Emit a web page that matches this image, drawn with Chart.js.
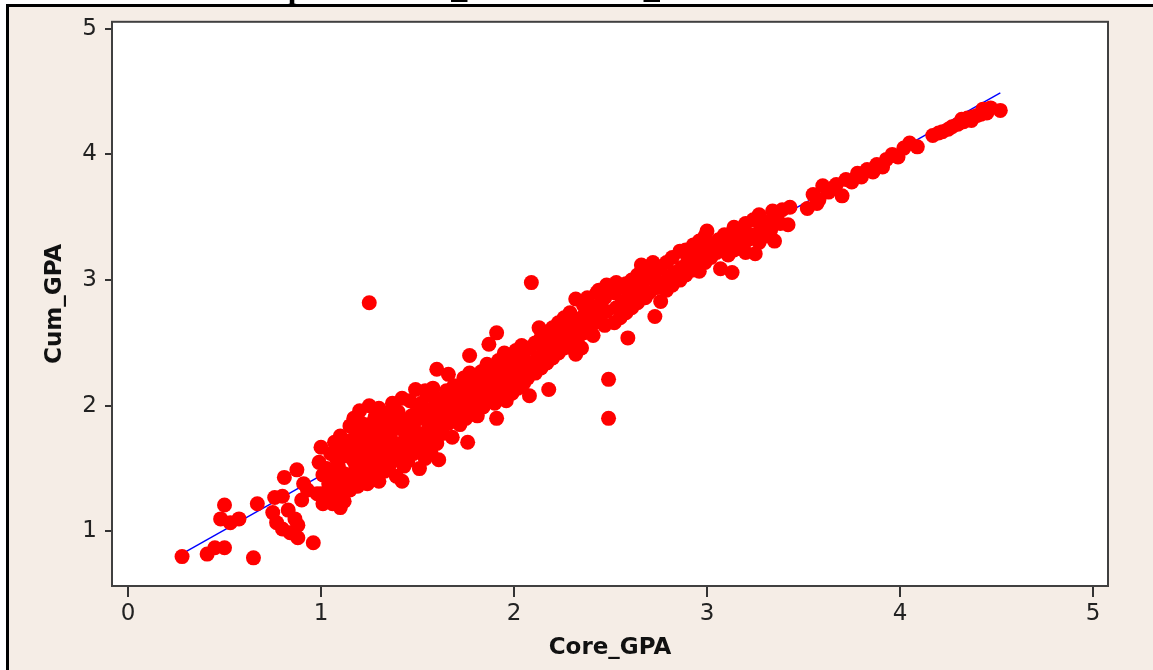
<!DOCTYPE html>
<html>
<head>
<meta charset="utf-8">
<title>Cum_GPA vs Core_GPA</title>
<script src="https://cdn.jsdelivr.net/npm/chart.js@4.4.1/dist/chart.umd.min.js"></script>
<style>
  html, body { margin: 0; padding: 0; background: #ffffff; }
  #gpaChart { display: block; }
</style>
</head>
<body>
<canvas id="gpaChart" width="1153" height="670"></canvas>
<script>
// ================================================
// Data (Core_GPA, Cum_GPA)
// ================================================

const lowCluster = [
  [0.28, 0.80], [0.41, 0.82], [0.45, 0.87], [0.50, 0.87], [0.65, 0.79],
  [0.48, 1.10], [0.50, 1.21], [0.53, 1.07], [0.575, 1.10], [0.67, 1.22],
  [0.75, 1.15], [0.76, 1.27], [0.77, 1.07], [0.80, 1.28], [0.80, 1.02],
  [0.81, 1.43], [0.83, 1.17], [0.84, 0.99], [0.865, 1.10], [0.875, 1.49],
  [0.88, 0.95], [0.88, 1.05], [0.90, 1.25], [0.91, 1.38], [0.93, 1.33],
  [0.96, 0.91], [0.98, 1.30], [1.01, 1.22], [1.10, 1.19]
];

const lowerBand = [
  [1.00, 1.30], [1.01, 1.45], [0.99, 1.55], [1.00, 1.67],
  [1.03, 1.26], [1.04, 1.38], [1.03, 1.50], [1.05, 1.62],
  [1.06, 1.22], [1.07, 1.34], [1.06, 1.47], [1.08, 1.58], [1.07, 1.71],
  [1.09, 1.28], [1.10, 1.40], [1.09, 1.52], [1.11, 1.65], [1.10, 1.76],
  [1.12, 1.24], [1.13, 1.37], [1.12, 1.46], [1.14, 1.60], [1.13, 1.72], [1.15, 1.84],
  [1.15, 1.33], [1.16, 1.44], [1.17, 1.56], [1.16, 1.68], [1.18, 1.78], [1.17, 1.90],
  [1.19, 1.36], [1.18, 1.50], [1.20, 1.62], [1.19, 1.74], [1.21, 1.86],
  [1.21, 1.42], [1.22, 1.55], [1.23, 1.66], [1.22, 1.80], [1.20, 1.96],
  [1.24, 1.38], [1.25, 1.48], [1.24, 1.60], [1.26, 1.72], [1.25, 1.85], [1.25, 2.00],
  [1.27, 1.45], [1.28, 1.57], [1.27, 1.69], [1.29, 1.78], [1.28, 1.91],
  [1.30, 1.40], [1.31, 1.52], [1.30, 1.64], [1.32, 1.75], [1.31, 1.88], [1.30, 1.98],
  [1.33, 1.48], [1.34, 1.60], [1.33, 1.71], [1.35, 1.83], [1.34, 1.94],
  [1.36, 1.54], [1.37, 1.66], [1.36, 1.78], [1.38, 1.90], [1.37, 2.02],
  [1.39, 1.44], [1.40, 1.58], [1.39, 1.70], [1.41, 1.82], [1.40, 1.95],
  [1.42, 1.40], [1.43, 1.52], [1.42, 1.64], [1.44, 1.76], [1.43, 1.87], [1.42, 2.06],
  [1.45, 1.56], [1.46, 1.69], [1.45, 1.80], [1.47, 1.92], [1.46, 2.04],
  [1.48, 1.62], [1.49, 1.74], [1.48, 1.85], [1.50, 1.97], [1.49, 2.13]
];

const middleBand = [
  [1.51, 1.50], [1.52, 1.66], [1.51, 1.78], [1.53, 1.90], [1.52, 2.02], [1.54, 2.12],
  [1.54, 1.58], [1.55, 1.72], [1.56, 1.84], [1.55, 1.96], [1.57, 2.08],
  [1.57, 1.62], [1.58, 1.76], [1.57, 1.88], [1.59, 2.00], [1.58, 2.14],
  [1.61, 1.57], [1.60, 1.70], [1.61, 1.82], [1.62, 1.94], [1.60, 2.06], [1.60, 2.29],
  [1.63, 1.78], [1.64, 1.90], [1.63, 2.02], [1.65, 2.12],
  [1.66, 1.86], [1.67, 1.97], [1.66, 2.08], [1.66, 2.25],
  [1.68, 1.75], [1.69, 1.92], [1.70, 2.04], [1.69, 2.16],
  [1.72, 1.85], [1.73, 1.98], [1.72, 2.10], [1.74, 2.22],
  [1.76, 1.71], [1.75, 1.90], [1.76, 2.02], [1.75, 2.14], [1.77, 2.26],
  [1.78, 1.96], [1.79, 2.08], [1.78, 2.20], [1.77, 2.40],
  [1.81, 1.92], [1.82, 2.03], [1.81, 2.15], [1.83, 2.27],
  [1.84, 1.99], [1.85, 2.10], [1.84, 2.22], [1.86, 2.33],
  [1.87, 2.05], [1.88, 2.17], [1.87, 2.28], [1.87, 2.49],
  [1.90, 2.02], [1.91, 2.12], [1.90, 2.24], [1.92, 2.36], [1.91, 2.58], [1.91, 1.90],
  [1.93, 2.08], [1.94, 2.19], [1.93, 2.30], [1.95, 2.42],
  [1.96, 2.04], [1.97, 2.14], [1.96, 2.26], [1.98, 2.38],
  [1.99, 2.10], [2.00, 2.21], [1.99, 2.32], [2.01, 2.44],
  [2.02, 2.14], [2.03, 2.26], [2.02, 2.37], [2.04, 2.48],
  [2.05, 2.18], [2.06, 2.30], [2.05, 2.42],
  [2.08, 2.08], [2.07, 2.22], [2.09, 2.34], [2.08, 2.46],
  [2.11, 2.26], [2.12, 2.38], [2.11, 2.50],
  [2.14, 2.30], [2.15, 2.42], [2.14, 2.54], [2.13, 2.62],
  [2.17, 2.34], [2.18, 2.46], [2.17, 2.58], [2.18, 2.13],
  [2.20, 2.38], [2.21, 2.50], [2.20, 2.62],
  [2.23, 2.42], [2.24, 2.55], [2.23, 2.66],
  [2.26, 2.46], [2.27, 2.58], [2.26, 2.70],
  [2.29, 2.50], [2.30, 2.62], [2.29, 2.74],
  [2.32, 2.41], [2.33, 2.54], [2.32, 2.66], [2.32, 2.85],
  [2.35, 2.46], [2.36, 2.58], [2.35, 2.70], [2.36, 2.80],
  [2.38, 2.62], [2.39, 2.74], [2.38, 2.86],
  [2.41, 2.56], [2.42, 2.66], [2.41, 2.78], [2.43, 2.90],
  [2.44, 2.70], [2.45, 2.82], [2.44, 2.92],
  [2.47, 2.64], [2.48, 2.75], [2.47, 2.86], [2.48, 2.96]
];

const upperBand = [
  [2.52, 2.66], [2.53, 2.78], [2.52, 2.90], [2.53, 2.98],
  [2.55, 2.70], [2.56, 2.82], [2.55, 2.94],
  [2.58, 2.74], [2.59, 2.86], [2.58, 2.97], [2.59, 2.54],
  [2.61, 2.78], [2.62, 2.90], [2.61, 3.00],
  [2.64, 2.82], [2.65, 2.94], [2.64, 3.04], [2.66, 3.12],
  [2.68, 2.86], [2.67, 2.98], [2.68, 3.07],
  [2.70, 2.90], [2.71, 3.02],
  [2.73, 2.71], [2.74, 2.94], [2.73, 3.06], [2.72, 3.14],
  [2.76, 2.83], [2.77, 2.98], [2.76, 3.10],
  [2.79, 2.92], [2.80, 3.02], [2.79, 3.14],
  [2.82, 2.96], [2.83, 3.06], [2.82, 3.18],
  [2.86, 3.00], [2.87, 3.10], [2.86, 3.23],
  [2.89, 3.04], [2.90, 3.15], [2.89, 3.24],
  [2.93, 3.08], [2.94, 3.18], [2.93, 3.28],
  [2.96, 3.07], [2.97, 3.20], [2.96, 3.31],
  [2.99, 3.14], [3.00, 3.25], [2.99, 3.35], [3.00, 3.39],
  [3.02, 3.18], [3.03, 3.28], [3.05, 3.22], [3.06, 3.32], [3.07, 3.09],
  [3.08, 3.26], [3.09, 3.36], [3.11, 3.20], [3.12, 3.30], [3.13, 3.06],
  [3.14, 3.24], [3.15, 3.34], [3.14, 3.42], [3.17, 3.28], [3.18, 3.38],
  [3.20, 3.22], [3.21, 3.32], [3.20, 3.45], [3.23, 3.36], [3.24, 3.48],
  [3.25, 3.21], [3.27, 3.30], [3.28, 3.42], [3.27, 3.52],
  [3.30, 3.35], [3.31, 3.46], [3.33, 3.40], [3.34, 3.55],
  [3.35, 3.31], [3.36, 3.50], [3.38, 3.45], [3.39, 3.56],
  [3.42, 3.44], [3.43, 3.58]
];

const topChain = [
  [3.52, 3.57], [3.55, 3.68], [3.57, 3.61], [3.58, 3.64], [3.60, 3.75], [3.63, 3.70],
  [3.65, 3.73], [3.67, 3.76], [3.70, 3.67], [3.72, 3.80], [3.75, 3.78], [3.78, 3.85],
  [3.80, 3.82], [3.83, 3.88], [3.86, 3.86], [3.88, 3.92], [3.91, 3.90], [3.93, 3.96],
  [3.96, 4.00], [3.99, 3.98], [4.02, 4.05], [4.05, 4.09], [4.09, 4.06],
  [4.17, 4.15], [4.20, 4.17], [4.22, 4.18], [4.25, 4.20], [4.27, 4.22], [4.30, 4.24],
  [4.32, 4.28], [4.33, 4.26], [4.35, 4.29], [4.37, 4.27], [4.38, 4.30], [4.40, 4.31],
  [4.42, 4.32], [4.43, 4.36], [4.45, 4.33], [4.47, 4.37], [4.52, 4.35]
];

const outliers = [
  [1.25, 2.82], [2.09, 2.98], [2.49, 2.21], [2.49, 1.90]
];

// fitted line end points as drawn
const fitCore = [0.30, 4.52];
const fitCum = [0.84, 4.49];

const xTicks = [0, 1, 2, 3, 4, 5];
const yTicks = [1, 2, 3, 4, 5];

// ================================================
// Chart
// ================================================

document.addEventListener('DOMContentLoaded', function() {
  initChart();
});

function toPoints(pairs) {
  return pairs.map(p => ({ x: p[0], y: p[1] }));
}

const frameBackground = {
  id: 'frameBackground',
  beforeDraw(chart) {
    const { ctx, width, height, chartArea } = chart;
    ctx.save();
    ctx.fillStyle = '#ffffff';
    ctx.fillRect(0, 0, width, height);
    ctx.fillStyle = '#f5ede6';
    ctx.fillRect(6, 4, width - 6, height - 4);
    ctx.fillStyle = '#000000';
    ctx.fillRect(6, 4, width - 6, 3);
    ctx.fillRect(6, 4, 3, height - 4);
    ctx.fillStyle = '#ffffff';
    ctx.fillRect(chartArea.left, chartArea.top, chartArea.right - chartArea.left, chartArea.bottom - chartArea.top);

    // title sits above the visible window, only descenders show
    ctx.fillStyle = '#000000';
    ctx.font = 'bold 32px "Liberation Serif", serif';
    ctx.textBaseline = 'alphabetic';
    ctx.textAlign = 'left';
    ctx.fillText('Scatterplot of Cum_GPA vs Core_GPA', 190, -2.5);
    ctx.restore();
  },
  afterDraw(chart) {
    const { ctx, chartArea } = chart;
    ctx.save();
    ctx.strokeStyle = '#404040';
    ctx.lineWidth = 2;
    ctx.strokeRect(chartArea.left, chartArea.top, chartArea.right - chartArea.left, chartArea.bottom - chartArea.top);
    ctx.restore();
  }
};

function initChart() {
  const ctx = document.getElementById('gpaChart');
  const tickFont = { family: '"DejaVu Sans", Verdana, sans-serif', size: 23 };
  const titleFont = { family: '"DejaVu Sans", Verdana, sans-serif', size: 23, weight: 'bold' };

  const allPoints = [].concat(lowCluster, lowerBand, middleBand, upperBand, topChain, outliers);

  new Chart(ctx, {
    type: 'scatter',
    data: {
      datasets: [
        {
          label: 'Cum_GPA',
          data: toPoints(allPoints),
          backgroundColor: '#ff0000',
          borderWidth: 0,
          pointRadius: 7.5,
          pointHoverRadius: 7.5
        },
        {
          label: 'Fit',
          data: fitCore.map((x, i) => ({ x: x, y: fitCum[i] })),
          showLine: true,
          borderColor: '#0000ff',
          borderWidth: 1.4,
          pointRadius: 0,
          fill: false
        }
      ]
    },
    options: {
      responsive: false,
      animation: false,
      layout: { padding: { left: 0, top: 19, right: 45, bottom: 0 } },
      plugins: {
        legend: { display: false },
        tooltip: { enabled: false }
      },
      scales: {
        x: {
          type: 'linear',
          min: -0.083,
          max: 5.078,
          afterBuildTicks: s => { s.ticks = xTicks.map(v => ({ value: v })); },
          afterFit: s => { s.height = 84; },
          grid: { drawOnChartArea: false, tickLength: 11, tickColor: '#333333', lineWidth: 2 },
          border: { display: false },
          ticks: { font: tickFont, color: '#222222', padding: 3, maxRotation: 0 },
          title: { display: true, text: 'Core_GPA', font: titleFont, color: '#111111', padding: { top: 0, bottom: 8 } }
        },
        y: {
          type: 'linear',
          min: 0.566,
          max: 5.055,
          afterBuildTicks: s => { s.ticks = yTicks.map(v => ({ value: v })); },
          afterFit: s => { s.width = 112; },
          grid: { drawOnChartArea: false, tickLength: 7, tickColor: '#333333', lineWidth: 2 },
          border: { display: false },
          ticks: { font: tickFont, color: '#222222', padding: 8 },
          title: { display: true, text: 'Cum_GPA', font: titleFont, color: '#111111', padding: { top: 41, bottom: 0 } }
        }
      }
    },
    plugins: [frameBackground]
  });
}
</script>
</body>
</html>
